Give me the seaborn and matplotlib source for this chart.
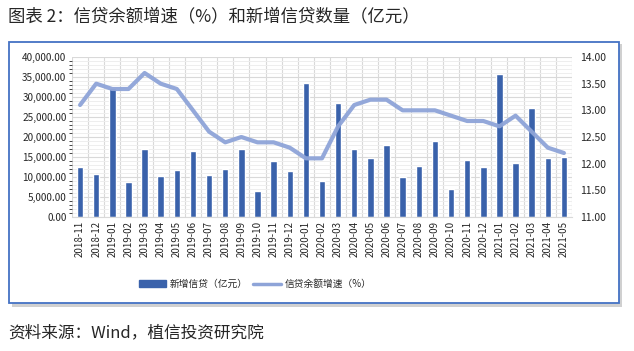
import numpy as np
import pandas as pd
import seaborn as sns
import matplotlib.pyplot as plt
from matplotlib.ticker import MultipleLocator, FuncFormatter
from matplotlib.patches import Rectangle
from matplotlib.lines import Line2D

months = ['2018-11', '2018-12', '2019-01', '2019-02', '2019-03', '2019-04', '2019-05',
          '2019-06', '2019-07', '2019-08', '2019-09', '2019-10', '2019-11', '2019-12',
          '2020-01', '2020-02', '2020-03', '2020-04', '2020-05', '2020-06', '2020-07',
          '2020-08', '2020-09', '2020-10', '2020-11', '2020-12', '2021-01', '2021-02',
          '2021-03', '2021-04', '2021-05']
new_loans = [12500, 10800, 32300, 8858, 16900, 10200, 11800, 16600, 10600, 12100,
             16900, 6613, 13900, 11400, 33400, 9057, 28500, 17000, 14800, 18100,
             9927, 12800, 19000, 6898, 14300, 12600, 35800, 13600, 27300, 14700, 15000]
loan_growth = [13.1, 13.5, 13.4, 13.4, 13.7, 13.5, 13.4, 13.0, 12.6, 12.4, 12.5, 12.4,
               12.4, 12.3, 12.1, 12.1, 12.7, 13.1, 13.2, 13.2, 13.0, 13.0, 13.0, 12.9,
               12.8, 12.8, 12.7, 12.9, 12.6, 12.3, 12.2]

bar_label = '新增信贷（亿元）'
line_label = '信贷余额增速（%）'

sns.set_style('white')
plt.rcParams['font.family'] = ['Noto Sans CJK SC', 'DejaVu Sans']

df = pd.DataFrame({'month': months, 'loans': new_loans, 'growth': loan_growth})
df['pos'] = np.arange(len(df))

fig = plt.figure(figsize=(6.34, 3.51), dpi=100)

# blue frame with a soft shadow, like the Excel chart box
fig.patches.append(Rectangle((12 / 634, 1 - 307 / 351), 610 / 634, 263 / 351,
                             transform=fig.transFigure, facecolor='#d0d0d0',
                             edgecolor='none', zorder=0))
fig.patches.append(Rectangle((9 / 634, 1 - 303 / 351), 610 / 634, 261 / 351,
                             transform=fig.transFigure, facecolor='white',
                             edgecolor='#4472C4', linewidth=1.3, zorder=1))

ax = fig.add_axes([72 / 634, 1 - 217 / 351, 500 / 634, 160 / 351])
ax.set_zorder(2)
ax.patch.set_alpha(0)

sns.barplot(data=df, x='month', y='loans', color='#3A62AB', saturation=1,
            width=0.4, ax=ax)
ax.set_ylim(0, 40000)
ax.set_xlim(-0.5, len(df) - 0.5)
ax.yaxis.set_major_locator(MultipleLocator(5000))
ax.yaxis.set_minor_locator(MultipleLocator(1000))
ax.set_xticks(np.arange(-0.5, len(df)), minor=True)
ax.grid(which='minor', axis='y', color='#eeeeee', linewidth=0.7)
ax.grid(which='major', axis='y', color='#d9d9d9', linewidth=0.8)
ax.grid(which='minor', axis='x', color='#d9d9d9', linewidth=0.8)
ax.set_axisbelow(True)
ax.yaxis.set_major_formatter(FuncFormatter(lambda v, p: f'{v:,.2f}'))
ax.tick_params(axis='y', length=0, labelsize=7.2, pad=4)
ax.tick_params(axis='x', which='both', length=0, labelsize=7, labelrotation=90, pad=3)
ax.set_xlabel('')
ax.set_ylabel('')
for s in ['top', 'right', 'left']:
    ax.spines[s].set_visible(False)
ax.spines['bottom'].set_color('#d9d9d9')

ax2 = ax.twinx()
sns.lineplot(data=df, x='pos', y='growth', color='#8EA4D8', linewidth=3,
             alpha=0.95, ax=ax2)
ax2.set_ylim(11, 14)
ax2.yaxis.set_major_locator(MultipleLocator(0.5))
ax2.yaxis.set_major_formatter(FuncFormatter(lambda v, p: f'{v:.2f}'))
ax2.tick_params(axis='y', length=0, labelsize=7.5, pad=6)
ax2.set_ylabel('')
ax2.set_xlabel('')
for s in ['top', 'right', 'left', 'bottom']:
    ax2.spines[s].set_visible(False)
ax2.grid(False)

handles = [Rectangle((0, 0), 1, 1, color='#3A62AB'),
           Line2D([0], [0], color='#8EA4D8', linewidth=2.5)]
fig.legend(handles, [bar_label, line_label], loc='center',
           bbox_to_anchor=(255 / 634, 1 - 284 / 351), ncol=2, frameon=False,
           fontsize=7, handlelength=2.8, handletextpad=0.4, columnspacing=0.6)

fig.text(8 / 634, 1 - 16 / 351, '图表 2：信贷余额增速（%）和新增信贷数量（亿元）',
         fontsize=12.5, va='center', ha='left')
fig.text(8 / 634, 1 - 333 / 351, '资料来源：Wind，植信投资研究院',
         fontsize=12, va='center', ha='left')

fig.savefig('out.png', dpi=100)
plt.close()
